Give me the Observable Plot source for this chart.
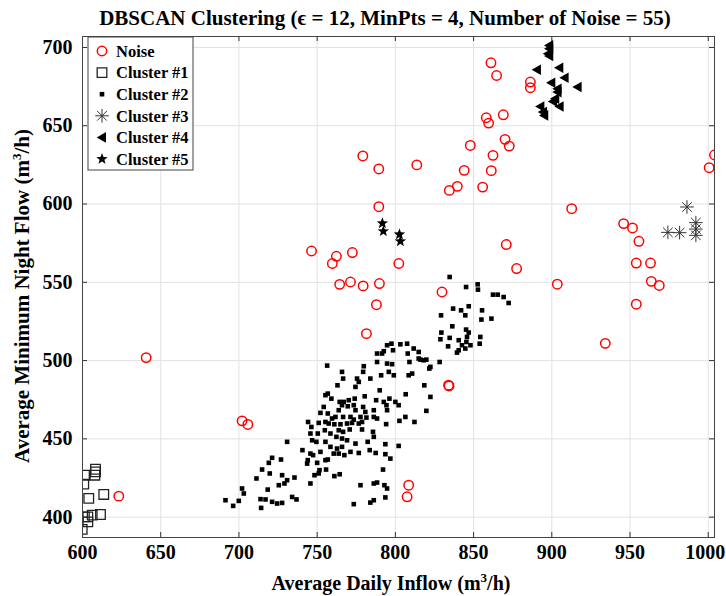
<!DOCTYPE html>
<html><head><meta charset="utf-8">
<script src="https://cdn.jsdelivr.net/npm/d3@7"></script>
<script src="https://cdn.jsdelivr.net/npm/@observablehq/plot@0.6"></script>
<style>body{margin:0;background:#fff;} svg{display:block}</style>
</head><body><div id="chart"></div>
<script>
const title = "DBSCAN Clustering (\u03F5 = 12, MinPts = 4, Number of Noise = 55)";
const xTicks = [600, 650, 700, 750, 800, 850, 900, 950, 1000];
const yTicks = [400, 450, 500, 550, 600, 650, 700];
const legendLabels = ["Noise", "Cluster #1", "Cluster #2", "Cluster #3", "Cluster #4", "Cluster #5"];

const noise = [
 [623.2,413.4],[640.7,501.9],[702.0,461.5],[705.7,459.2],[746.4,570.0],[762.3,566.6],[772.5,569.0],
 [759.7,562.0],[764.4,548.7],[771.3,550.2],[779.4,547.7],[789.8,549.2],[787.9,535.7],[781.5,517.2],
 [779.2,630.7],[789.4,622.4],[813.7,625.0],[789.4,598.3],[802.2,562.0],[807.5,413.0],[808.5,420.4],
 [829.8,543.8],[834.3,483.8],[834.0,484.3],[834.5,608.7],[839.6,611.3],[844.0,621.5],[847.9,637.4],[855.8,610.8],
 [858.1,655.1],[859.6,651.7],[861.1,690.2],[861.3,621.3],[862.4,631.1],[864.7,682.1],[869.0,657.0],
 [870.1,641.3],[872.8,637.0],[870.9,574.1],[877.5,558.8],[886.3,677.9],[886.3,674.3],[903.5,548.8],
 [912.7,597.0],[934.2,511.0],[945.9,587.5],[951.6,584.7],[955.7,576.2],[954.0,562.3],[963.1,562.3],
 [954.0,536.0],[963.6,550.6],[968.7,548.0],[1000.6,623.2],[1004.0,631.3]
];
const cluster1 = [
 [608.3,430.6],[608.3,428.9],[607.9,426.8],[601.3,426.8],[600.8,421.1],[613.6,414.5],[604.0,412.0],
 [611.5,401.7],[606.2,401.3],[603.4,400.2],[601.2,400.2],[603.4,397.0],[599.8,392.2]
];
const cluster2 = [
 [834.7,553.4],[845.2,547.0],[852.6,548.7],[852.8,545.3],[862.4,542.1],[865.4,542.1],[869.2,540.6],
 [872.4,536.8],[836.9,533.2],[842.0,532.1],[846.9,534.7],[844.7,528.9],[855.4,532.1],[855.0,526.2],
 [861.4,526.8],[829.2,528.9],[836.4,521.9],[845.2,519.8],[846.9,517.9],[829.4,517.9],[834.7,514.5],
 [840.5,513.0],[845.8,515.1],[845.4,511.9],[842.6,509.8],[854.3,515.1],[853.9,510.8],[828.8,513.6],
 [833.7,509.1],[840.5,506.6],[839.4,505.1],[844.7,507.7],[848.0,509.8],
 [797.5,510.8],[794.7,509.8],[803.2,510.4],[807.5,510.8],[811.7,507.7],[814.9,505.5],[788.3,504.5],
 [791.5,504.5],[792.6,506.0],[798.5,506.6],[807.9,504.5],[816.0,500.6],[818.1,500.2],[819.8,500.6],
 [814.9,501.3],[828.3,499.1],[809.0,499.1],[794.7,498.1],[797.9,497.7],[788.3,499.1],[779.8,496.4],
 [756.4,496.8],[765.9,492.8],[766.6,488.5],[775.5,488.5],[776.6,486.4],[784.0,488.5],[779.4,492.8],
 [790.9,490.6],[795.8,492.8],[799.0,490.6],[808.5,490.6],[810.7,491.7],[821.7,494.9],[822.4,496.0],
 [763.0,484.2],[774.5,483.2],[790.0,481.0],[806.6,478.5],[818.5,484.2],[822.4,476.8],[780.4,477.2],
 [787.7,474.7],[796.2,475.7],[792.6,473.6],[794.3,471.5],[800.0,473.6],[802.1,471.5],[794.7,468.3],
 [786.2,468.3],[819.8,467.9],[802.6,461.5],[806.4,464.0],[812.2,460.8],[794.1,459.4],[788.3,463.0],
 [755.3,477.9],[756.8,478.9],[759.1,475.7],[754.2,470.4],[764.4,473.6],[767.0,473.6],[770.2,474.7],
 [774.0,475.7],[765.9,471.5],[769.6,470.8],[773.4,471.5],[774.5,468.3],[779.4,470.4],[780.8,467.2],
 [763.8,468.3],[761.7,464.0],[752.1,466.6],[756.8,466.2],[759.5,463.0],[766.6,464.0],[771.3,464.0],
 [773.4,462.3],[777.7,464.0],[781.5,463.6],[786.2,464.0],[744.2,460.8],[746.3,457.6],[751.0,460.2],
 [755.3,460.8],[757.4,459.8],[761.0,459.3],[764.9,459.3],[769.1,459.8],[772.3,460.2],[776.6,459.8],
 [778.7,460.8],[745.7,453.4],[750.4,453.4],[754.9,455.5],[758.5,453.4],[763.8,455.5],[766.6,454.5],
 [770.8,456.0],[778.7,456.0],[785.7,454.5],[786.2,451.3],[782.3,448.1],[774.5,447.0],[769.1,449.1],
 [765.9,450.2],[762.3,451.3],[755.3,448.1],[749.5,448.1],[746.8,449.1],[740.6,442.8],[745.7,440.6],
 [744.0,436.4],[743.6,434.2],[750.0,434.7],[755.3,436.4],[756.8,436.8],[760.6,440.6],[763.8,440.6],
 [767.4,439.6],[771.3,441.7],[776.6,441.0],[783.6,442.8],[787.4,441.0],[793.6,446.6],[793.6,440.2],
 [796.8,437.4],[792.1,430.4],[802.1,445.5],[730.8,448.1],[758.5,444.9],[762.7,443.8],[765.9,444.9],
 [752.1,441.7],[747.4,439.6],
 [721.2,437.9],[719.1,434.7],[726.9,436.8],[714.8,430.4],[719.7,427.9],[711.2,424.7],[727.6,426.8],
 [730.8,423.6],[729.1,421.5],[725.5,420.4],[735.5,425.3],[718.4,417.6],[702.0,418.3],[703.1,415.1],
 [691.4,410.8],[696.3,407.2],[699.9,410.4],[713.8,411.5],[717.0,411.3],[721.2,409.8],[724.4,408.7],
 [727.6,409.1],[734.0,412.9],[736.8,411.3],[714.2,405.9],[745.7,421.5],[751.0,427.9],[748.3,426.8],
 [755.7,430.4],[761.0,426.2],[764.4,427.4],[777.7,420.4],[786.2,421.5],[788.3,422.1],[793.0,420.4],
 [794.7,418.3],[773.4,408.3],[784.0,409.3],[786.2,410.8],[793.6,412.6],[751.5,430.0]
];
const cluster3 = [[986.4,598.1],[992.1,588.1],[992.1,584.0],[992.1,580.0],[974.2,581.9],[981.7,581.7]];
const cluster4 = [
 [898.4,701.3],[898.4,699.2],[897.6,696.0],[898.4,694.5],[890.5,685.8],[904.8,687.0],[908.2,680.7],
 [899.7,677.5],[903.7,673.6],[903.7,671.5],[916.5,674.7],[902.2,667.3],[900.8,665.5],[905.0,662.3],
 [892.7,662.3],[894.4,658.7],[895.2,656.6]
];
const cluster5 = [[791.7,587.7],[792.3,582.6],[802.6,580.6],[803.2,576.2]];

// custom marker shapes (size -> half-extent r)
const rOf = s => Math.sqrt(s / Math.PI);
const symSquare = {draw(c, s) { const r = rOf(s); c.moveTo(-r,-r); c.lineTo(r,-r); c.lineTo(r,r); c.lineTo(-r,r); c.closePath(); }};
const symAst = {draw(c, s) { const r = rOf(s), d = r * Math.SQRT1_2;
  c.moveTo(-r,0); c.lineTo(r,0); c.moveTo(0,-r); c.lineTo(0,r);
  c.moveTo(-d,-d); c.lineTo(d,d); c.moveTo(-d,d); c.lineTo(d,-d); }};
const symLeft = {draw(c, s) { const r = rOf(s); c.moveTo(-r,0); c.lineTo(r*0.75,-r); c.lineTo(r*0.75,r); c.closePath(); }};
const symStar = {draw(c, s) { const r = rOf(s), ri = r * 0.42;
  for (let i = 0; i < 10; i++) { const a = -Math.PI/2 + i * Math.PI/5, rr = i % 2 ? ri : r;
    const px = rr * Math.cos(a), py = rr * Math.sin(a); i ? c.lineTo(px, py) : c.moveTo(px, py); }
  c.closePath(); }};
const symCircle = {draw(c, s) { const r = rOf(s); c.moveTo(r, 0); c.arc(0, 0, r, 0, 2 * Math.PI); }};

const styles = [
  {data: noise, symbol: symCircle, r: 4.7, stroke: "#ff0000", fill: "none", strokeWidth: 1.5},
  {data: cluster1, symbol: symSquare, r: 4.8, stroke: "#222", fill: "none", strokeWidth: 1.3},
  {data: cluster2, symbol: symSquare, r: 2.3, stroke: "none", fill: "#000", strokeWidth: 0},
  {data: cluster3, symbol: symAst, r: 6.8, stroke: "#333", fill: "none", strokeWidth: 1},
  {data: cluster4, symbol: symLeft, r: 5.3, stroke: "none", fill: "#000", strokeWidth: 0},
  {data: cluster5, symbol: symStar, r: 6, stroke: "none", fill: "#000", strokeWidth: 0}
];

const W = 726, H = 596, mL = 82, mR = 12, mT = 36, mB = 59;
const innerH = H - mT - mB, innerW = W - mL - mR;
const font = "'Liberation Serif','Times New Roman',serif";

const chart = Plot.plot({
  width: W, height: H,
  marginLeft: mL, marginRight: mR, marginTop: mT, marginBottom: mB,
  style: {fontFamily: font, fontWeight: "bold", fontSize: "20px", color: "#000", background: "#fff"},
  x: {domain: [600, 1004], label: null},
  y: {domain: [387, 707], label: null},
  marks: [
    Plot.gridX(xTicks, {stroke: "#e2e2e2", strokeOpacity: 1}),
    Plot.gridY(yTicks, {stroke: "#e2e2e2", strokeOpacity: 1}),
    Plot.tickX(xTicks, {x: d => d, insetTop: innerH - 5, stroke: "#333"}),
    Plot.tickX(xTicks, {x: d => d, insetBottom: innerH - 5, stroke: "#333"}),
    Plot.tickY(yTicks, {y: d => d, insetRight: innerW - 5, stroke: "#333"}),
    Plot.tickY(yTicks, {y: d => d, insetLeft: innerW - 5, stroke: "#333"}),
    Plot.axisX(xTicks, {tickSize: 0, tickPadding: 7, tickFormat: d => String(d)}),
    Plot.axisY(yTicks, {tickSize: 0, tickPadding: 10, tickFormat: d => String(d)}),
    ...styles.map(s => Plot.dot(s.data, {x: d => d[0], y: d => d[1], symbol: () => s.symbol, r: s.r,
        stroke: s.stroke, fill: s.fill, strokeWidth: s.strokeWidth, clip: true})),
    Plot.frame({stroke: "#444", strokeWidth: 1})
  ]
});
document.getElementById("chart").appendChild(chart);

const svg = d3.select(chart);
// keep the last x tick label inside the picture
svg.selectAll("text").filter(function() { return this.textContent === "1000"; }).attr("dx", -3);
// title
svg.append("text").attr("x", 385).attr("y", 25).attr("text-anchor", "middle")
  .style("font-family", font).style("font-weight", "bold").style("font-size", "21px").text(title);
// x label
const xl = svg.append("text").attr("x", 391).attr("y", 590).attr("text-anchor", "middle")
  .style("font-family", font).style("font-weight", "bold").style("font-size", "20px");
xl.append("tspan").text("Average Daily Inflow (m");
xl.append("tspan").attr("dy", -8).style("font-size", "13px").text("3");
xl.append("tspan").attr("dy", 8).text("/h)");
// y label
const yl = svg.append("text").attr("transform", "translate(29,296) rotate(-90)").attr("text-anchor", "middle")
  .style("font-family", font).style("font-weight", "bold").style("font-size", "21px");
yl.append("tspan").text("Average Minimum Night Flow (m");
yl.append("tspan").attr("dy", -8).style("font-size", "13px").text("3");
yl.append("tspan").attr("dy", 8).text("/h)");
// legend
const lg = svg.append("g");
lg.append("rect").attr("x", 88).attr("y", 37).attr("width", 105).attr("height", 133)
  .attr("fill", "#fff").attr("stroke", "#444");
styles.forEach((s, i) => {
  const cy = 51 + i * 21.6;
  lg.append("path").attr("transform", `translate(102,${cy})`)
    .attr("d", d3.symbol(s.symbol, Math.PI * s.r * s.r)())
    .attr("fill", s.fill).attr("stroke", s.stroke).attr("stroke-width", s.strokeWidth);
  lg.append("text").attr("x", 116).attr("y", cy).attr("dy", "0.35em").attr("text-anchor", "start")
    .style("font-family", font).style("font-weight", "bold").style("font-size", "16.5px")
    .text(legendLabels[i]);
});
</script>
</body></html>
